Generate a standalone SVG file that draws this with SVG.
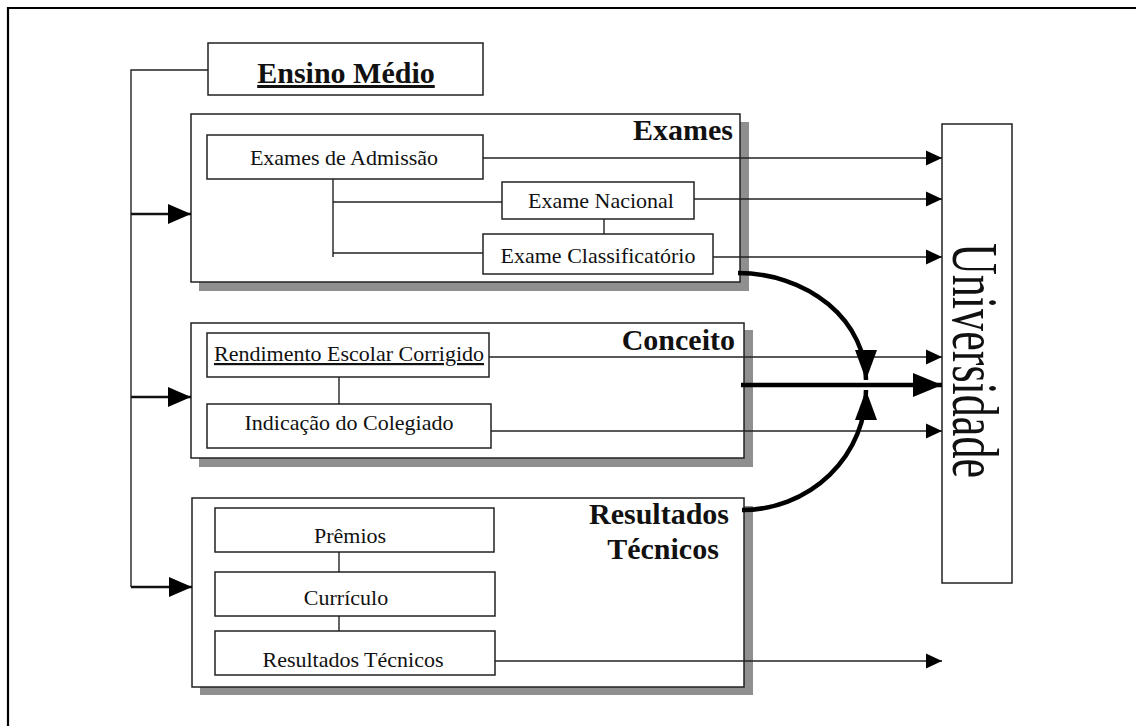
<svg xmlns="http://www.w3.org/2000/svg" width="1136" height="726" viewBox="0 0 1136 726">
<style>
.box{fill:#fff;stroke:#222;stroke-width:1.5}
.shadow{fill:#8f8f8f}
.t{font-family:"Liberation Serif","Times New Roman",serif;fill:#111}
.in{font-size:22px;text-anchor:middle}
.hd{font-size:30px;font-weight:bold}
.ln{fill:none;stroke:#222;stroke-width:1.4}
.thk{fill:none;stroke:#111;stroke-width:2.6}
.crv{fill:none;stroke:#000;stroke-width:4.5}
</style>
<defs>
<marker id="ahS" markerUnits="userSpaceOnUse" viewBox="0 0 16 16" refX="16" refY="8" markerWidth="16" markerHeight="16" orient="auto"><path d="M0,0.5 L16,8 L0,15.5 z" fill="#000"/></marker>
<marker id="ahL" markerUnits="userSpaceOnUse" viewBox="0 0 23 20" refX="23" refY="10" markerWidth="23" markerHeight="20" orient="auto"><path d="M0,0 L23,10 L0,20 z" fill="#000"/></marker>
<marker id="ahB" markerUnits="userSpaceOnUse" viewBox="0 0 29 24" refX="29" refY="12" markerWidth="29" markerHeight="24" orient="auto"><path d="M0,0 L29,12 L0,24 z" fill="#000"/></marker>
<marker id="ahC" markerUnits="userSpaceOnUse" viewBox="0 0 30 22" refX="30" refY="11" markerWidth="30" markerHeight="22" orient="auto"><path d="M0,0 L30,11 L0,22 z" fill="#000"/></marker>
</defs>
<rect width="1136" height="726" fill="#fff"/>
<path d="M8,726 V8 H1136" fill="none" stroke="#000" stroke-width="2.2"/>

<g id="ensino-medio">
<rect class="box" x="208" y="43" width="275" height="52"/>
<text class="t hd" x="346" y="83" text-anchor="middle" text-decoration="underline">Ensino Médio</text>
</g>

<g id="exames">
<rect class="shadow" x="199" y="122" width="550" height="169"/>
<rect class="box" x="191" y="114" width="549" height="168"/>
<text class="t hd" x="733" y="140" text-anchor="end">Exames</text>
</g>
<g id="exames-admissao">
<rect class="box" x="207" y="135" width="276" height="44"/>
<text class="t in" x="344" y="165">Exames de Admissão</text>
</g>
<g id="exame-nacional">
<rect class="box" x="502" y="182" width="192" height="37"/>
<text class="t in" x="601" y="208">Exame Nacional</text>
</g>
<g id="exame-classificatorio">
<rect class="box" x="483" y="234" width="230" height="40"/>
<text class="t in" x="598" y="263">Exame Classificatório</text>
</g>

<g id="conceito">
<rect class="shadow" x="199" y="330" width="554" height="137"/>
<rect class="box" x="191" y="323" width="553" height="135"/>
<text class="t hd" x="735" y="350" text-anchor="end">Conceito</text>
</g>
<g id="rendimento">
<rect class="box" x="207" y="333" width="282" height="44"/>
<text class="t in" x="349" y="361" text-decoration="underline">Rendimento Escolar Corrigido</text>
</g>
<g id="indicacao">
<rect class="box" x="207" y="404" width="284" height="44"/>
<text class="t in" x="349" y="430">Indicação do Colegiado</text>
</g>

<g id="resultados">
<rect class="shadow" x="200" y="506" width="553" height="189"/>
<rect class="box" x="192" y="498" width="552" height="189"/>
<text class="t hd" x="659" y="524" text-anchor="middle">Resultados</text>
<text class="t hd" x="663" y="559" text-anchor="middle">Técnicos</text>
</g>
<g id="premios">
<rect class="box" x="215" y="508" width="279" height="44"/>
<text class="t in" x="350" y="543">Prêmios</text>
</g>
<g id="curriculo">
<rect class="box" x="215" y="572" width="280" height="44"/>
<text class="t in" x="346" y="605">Currículo</text>
</g>
<g id="resultados-tecnicos">
<rect class="box" x="215" y="631" width="280" height="44"/>
<text class="t in" x="353" y="667">Resultados Técnicos</text>
</g>

<g id="universidade">
<rect class="box" x="942" y="124" width="70" height="459"/>
<text class="t" transform="translate(953,243) rotate(90)" font-size="65" textLength="235" lengthAdjust="spacingAndGlyphs">Universidade</text>
</g>

<g id="connectors">
<path class="ln" d="M208,70 H131 V587"/>
<path class="thk" d="M131,214 H191" marker-end="url(#ahL)"/>
<path class="thk" d="M131,397 H191" marker-end="url(#ahL)"/>
<path class="thk" d="M131,587 H192" marker-end="url(#ahL)"/>
<path class="ln" d="M333,179 V257"/>
<path class="ln" d="M333,202 H502"/>
<path class="ln" d="M333,253 H483"/>
<path class="ln" d="M604,219 V234"/>
<path class="ln" d="M339,377 V404"/>
<path class="ln" d="M339,552 V572"/>
<path class="ln" d="M339,616 V631"/>
<path class="ln" d="M483,158 H942" marker-end="url(#ahS)"/>
<path class="ln" d="M694,199 H942" marker-end="url(#ahS)"/>
<path class="ln" d="M713,257 H942" marker-end="url(#ahS)"/>
<path class="ln" d="M489,357 H942" marker-end="url(#ahS)"/>
<path class="ln" d="M491,431 H942" marker-end="url(#ahS)"/>
<path class="ln" d="M495,661 H942" marker-end="url(#ahS)"/>
<path class="crv" d="M741,385 H942" marker-end="url(#ahB)"/>
<path class="crv" d="M738,273 A128,107 0 0 1 866,380" marker-end="url(#ahC)"/>
<path class="crv" d="M742,510 A124,120 0 0 0 866,390" marker-end="url(#ahC)"/>
</g>
</svg>
